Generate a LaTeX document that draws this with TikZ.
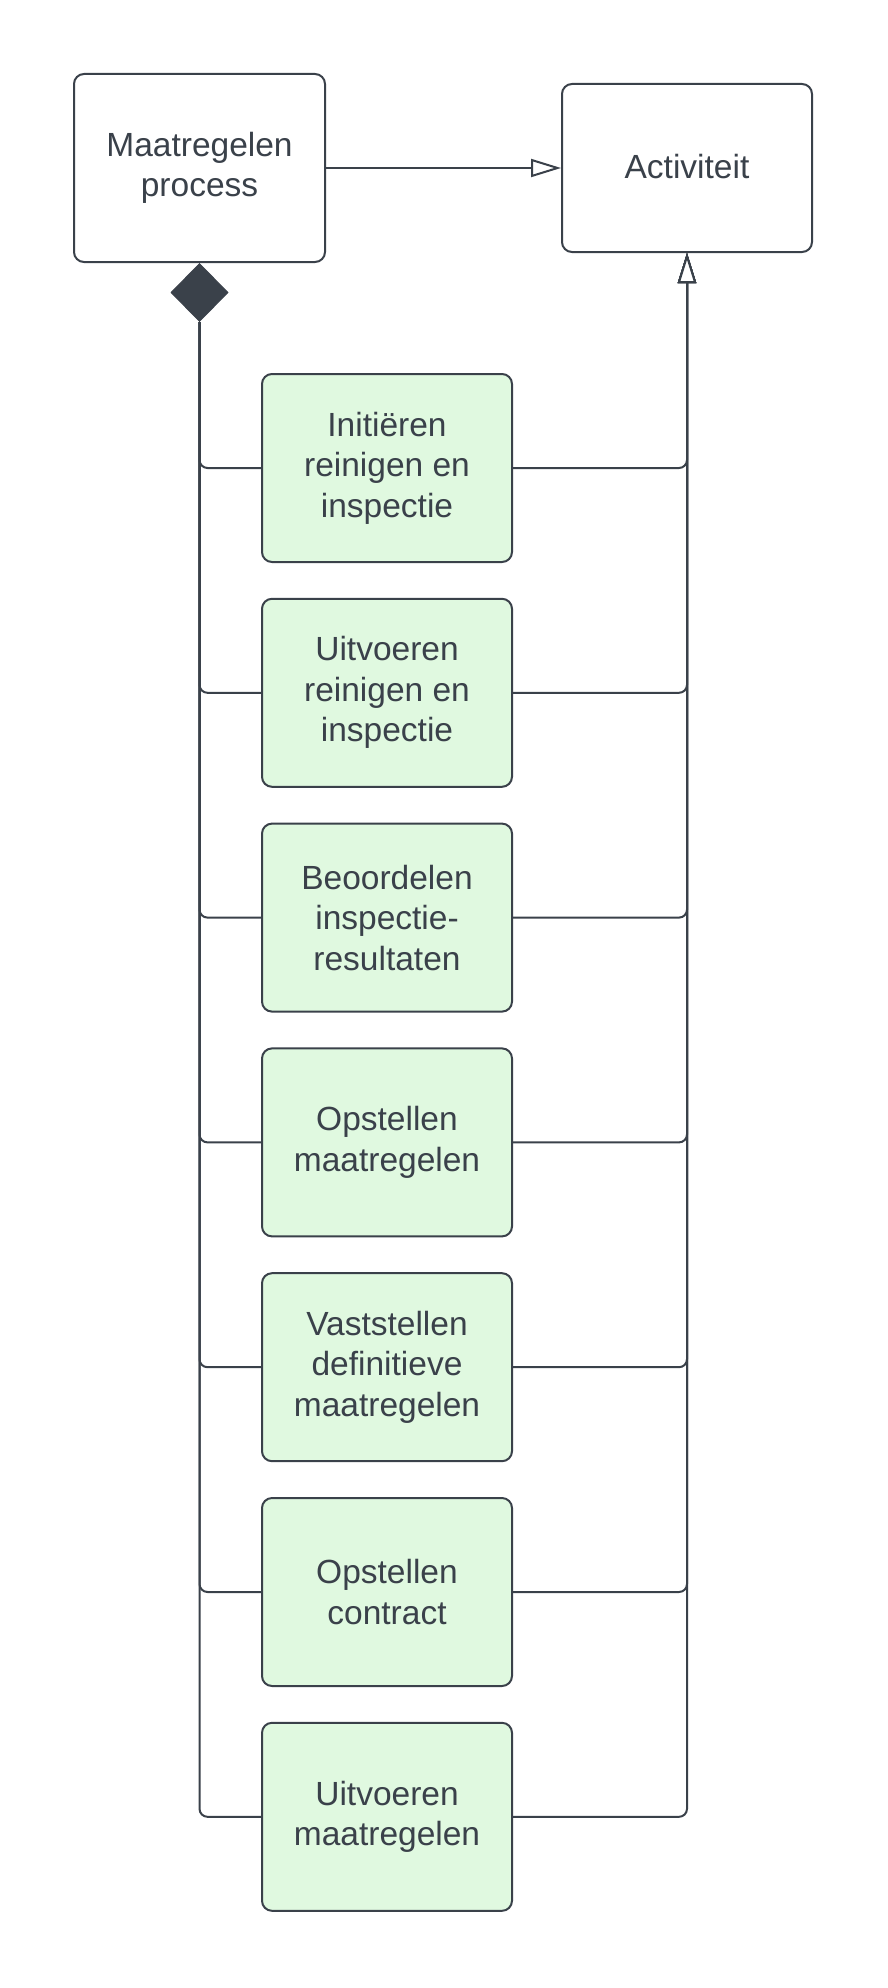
\documentclass[tikz,border=0pt]{standalone}
\usepackage{fontspec}
\setmainfont{Liberation Sans}
\usetikzlibrary{arrows.meta,shapes.geometric}
\definecolor{ink}{RGB}{58,65,74}
\definecolor{greenfill}{RGB}{224,249,224}
\tikzset{
  base/.style={draw=ink, line width=2pt, rounded corners=10pt, text=ink, align=center,
    font=\fontsize{33.5}{40.5}\selectfont, inner sep=0pt},
  whitebox/.style={base, fill=white},
  greenbox/.style={base, fill=greenfill, minimum width=250pt, minimum height=188pt},
  conn/.style={draw=ink, line width=2pt, rounded corners=8pt},
  gen/.style={conn, -{Triangle[open, length=30pt, width=18pt, line width=2pt, fill=white]}},
}
\begin{document}
\begin{tikzpicture}[x=1pt,y=-1pt]
\useasboundingbox (0,0) rectangle (887,1988);
\node[whitebox, minimum width=251pt, minimum height=188pt] (mp) at (199.5,168) {Maatregelen\\process};
\node[whitebox, minimum width=250pt, minimum height=168pt] (act) at (687,168) {\raisebox{3pt}{Activiteit}};
\node[diamond, fill=ink, draw=ink, line width=1pt, minimum width=57pt, minimum height=58pt, inner sep=0pt, anchor=north] (dia) at (mp.south) {};
\draw[gen] (mp.east) -- (act.west);
\foreach \i/\t in {1/{Initiëren\\reinigen en\\inspectie},
                   2/{Uitvoeren\\reinigen en\\inspectie},
                   3/{Beoordelen\\inspectie-\\resultaten},
                   4/{Opstellen\\maatregelen},
                   5/{Vaststellen\\definitieve\\maatregelen},
                   6/{Opstellen\\contract},
                   7/{Uitvoeren\\maatregelen}} {
  \node[greenbox] (b\i) at (387,{468+224.8*(\i-1)}) {\t};
  \draw[conn] (dia.south) |- (b\i.west);
  \draw[gen] (b\i.east) -| (act.south);
}
\end{tikzpicture}
\end{document}
